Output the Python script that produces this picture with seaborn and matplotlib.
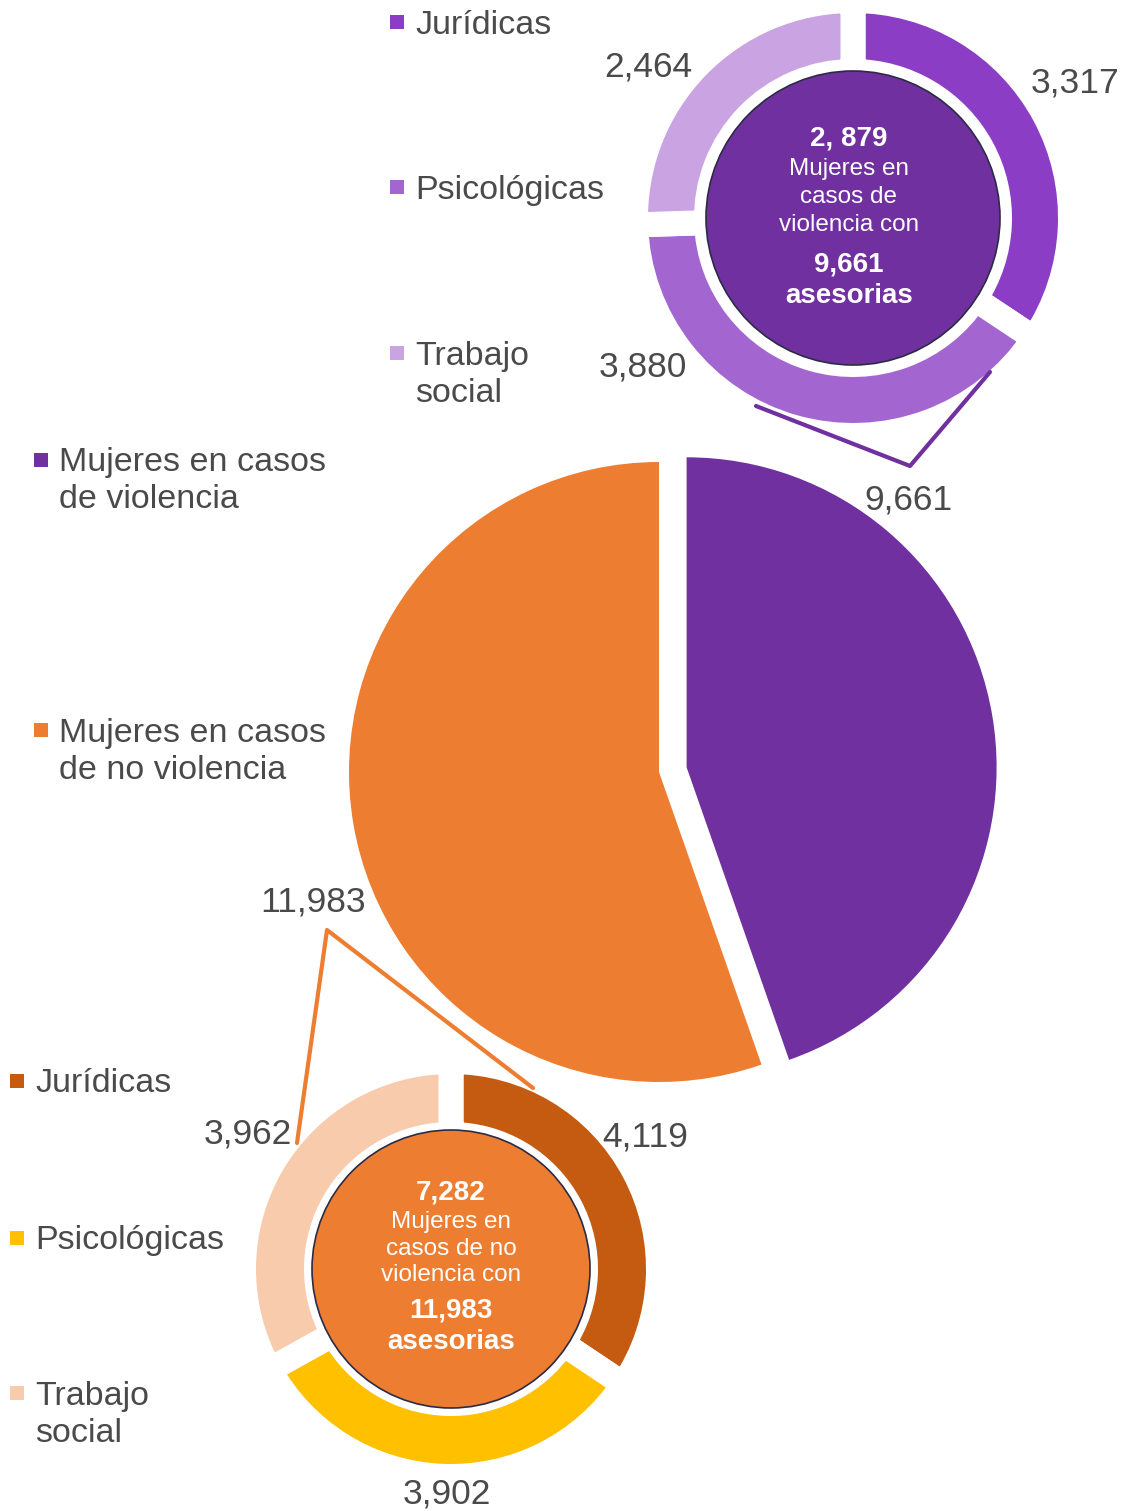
import matplotlib
matplotlib.use("Agg")
import matplotlib.pyplot as plt
from matplotlib.patches import Rectangle, Circle
from matplotlib.lines import Line2D
import seaborn as sns

# ---------------- data ----------------
main_labels = ["Mujeres en casos\nde violencia", "Mujeres en casos\nde no violencia"]
main_values = [9661, 11983]

viol_labels = ["Jurídicas", "Psicológicas", "Trabajo\nsocial"]
viol_values = [3317, 3880, 2464]
viol_women = "2, 879"
viol_total = "9,661"

noviol_labels = ["Jurídicas", "Psicológicas", "Trabajo\nsocial"]
noviol_values = [4119, 3902, 3962]
noviol_women = "7,282"
noviol_total = "11,983"

# ---------------- style ----------------
sns.set_theme(style="white")
plt.rcParams["font.family"] = ["Liberation Sans", "DejaVu Sans"]

PURPLE = "#7030A0"
ORANGE = "#ED7D31"
viol_colors = ["#8B3DC5", "#A366D1", "#C9A3E2"]
noviol_colors = ["#C55A11", "#FFC000", "#F8CBAD"]
TXT = "#4A4A4A"

W, H = 1125, 1511
fig = plt.figure(figsize=(W / 100, H / 100), dpi=100)
fig.patch.set_facecolor("white")

DY = 3  # text baseline correction (px)


def fx(x):
    return x / W


def fy(y):
    return 1 - y / H


def ty(y):
    return fy(y + DY)


def pie_ax(cx, cy, R):
    ax = fig.add_axes([(cx - R) / W, 1 - (cy + R) / H, 2 * R / W, 2 * R / H])
    ax.set_facecolor("none")
    return ax, R


def finish(ax, R):
    ax.set_xlim(-R, R)
    ax.set_ylim(-R, R)
    ax.set_axis_off()


# ---------------- main pie ----------------
ax, R = pie_ax(659, 772, 360)
ax.pie(main_values, colors=[PURPLE, ORANGE], startangle=90, counterclock=False,
       radius=310, explode=[28, 0], wedgeprops=dict(linewidth=0))
finish(ax, R)


def donut(cx, cy, values, colors, r_out, r_in, r_circ, gap, circ_color):
    ax, R = pie_ax(cx, cy, 250)
    half = gap / 2
    ax.pie(values, colors=colors, startangle=90, counterclock=False,
           radius=r_out + half,
           wedgeprops=dict(width=(r_out + half) - (r_in - half), edgecolor="white",
                           linewidth=gap * 72 / 100))
    ax.add_patch(Circle((0, 0), r_circ, facecolor=circ_color, edgecolor="#2B2B45",
                        linewidth=1.2, zorder=5))
    finish(ax, R)


donut(853, 218, viol_values, viol_colors, 205, 159, 147, 25, PURPLE)
donut(451, 1269, noviol_values, noviol_colors, 195, 147, 139, 25, ORANGE)

# ---------------- connector lines ----------------
fig.add_artist(Line2D([fx(756), fx(910), fx(990)], [fy(406), fy(466), fy(372)],
                      color=PURPLE, linewidth=3, transform=fig.transFigure))
fig.add_artist(Line2D([fx(297), fx(327), fx(533)], [fy(1143), fy(930), fy(1088)],
                      color=ORANGE, linewidth=3, transform=fig.transFigure))

# ---------------- value labels ----------------
NUM = 25.5
fig.text(fx(1075), ty(80), f"{viol_values[0]:,}", ha="center", va="center", fontsize=NUM, color=TXT)
fig.text(fx(643), ty(364), f"{viol_values[1]:,}", ha="center", va="center", fontsize=NUM, color=TXT)
fig.text(fx(648), ty(64), f"{viol_values[2]:,}", ha="center", va="center", fontsize=NUM, color=TXT)
fig.text(fx(908), ty(497), f"{main_values[0]:,}", ha="center", va="center", fontsize=NUM, color=TXT)
fig.text(fx(313), ty(899), f"{main_values[1]:,}", ha="center", va="center", fontsize=NUM, color=TXT)
fig.text(fx(645), ty(1134), f"{noviol_values[0]:,}", ha="center", va="center", fontsize=NUM, color=TXT)
fig.text(fx(447), ty(1491), f"{noviol_values[1]:,}", ha="center", va="center", fontsize=NUM, color=TXT)
fig.text(fx(248), ty(1131), f"{noviol_values[2]:,}", ha="center", va="center", fontsize=NUM, color=TXT)

# ---------------- legends ----------------
LEG = 24.5
SQ = 14


def legend_item(x, y, color, label):
    fig.add_artist(Rectangle((fx(x - SQ / 2), fy(y + SQ / 2)), SQ / W, SQ / H,
                             facecolor=color, edgecolor="none", transform=fig.transFigure))
    if "\n" in label:
        fig.text(fx(x + 18), ty(y + 18.5), label, ha="left", va="center",
                 fontsize=LEG, color=TXT, linespacing=1.25)
    else:
        fig.text(fx(x + 18), ty(y), label, ha="left", va="center",
                 fontsize=LEG, color=TXT)


for lab, col, yy in zip(viol_labels, viol_colors, [22, 187, 353]):
    legend_item(397, yy, col, lab)
for lab, col, yy in zip(main_labels, [PURPLE, ORANGE], [460, 730]):
    legend_item(41, yy, col, lab)
for lab, col, yy in zip(noviol_labels, noviol_colors, [1081, 1238, 1393]):
    legend_item(17, yy, col, lab)


# ---------------- centre texts ----------------
def centre(cx, ys, women, line_texts, total):
    fig.text(fx(cx), ty(ys[0]), women, ha="center", va="center", fontsize=20,
             fontweight="bold", color="white")
    for t, yy in zip(line_texts, ys[1:4]):
        fig.text(fx(cx), ty(yy), t, ha="center", va="center", fontsize=17.5, color="white")
    fig.text(fx(cx), ty(ys[4]), total, ha="center", va="center", fontsize=20,
             fontweight="bold", color="white")
    fig.text(fx(cx), ty(ys[5]), "asesorias", ha="center", va="center", fontsize=20,
             fontweight="bold", color="white")


centre(849, [136, 166, 194, 222, 261, 293], viol_women,
       ["Mujeres en", "casos de", "violencia con"], viol_total)
centre(451, [1190, 1219, 1246, 1272, 1308, 1339], noviol_women,
       ["Mujeres en", "casos de no", "violencia con"], noviol_total)

fig.savefig("out.png", dpi=100, facecolor="white")
